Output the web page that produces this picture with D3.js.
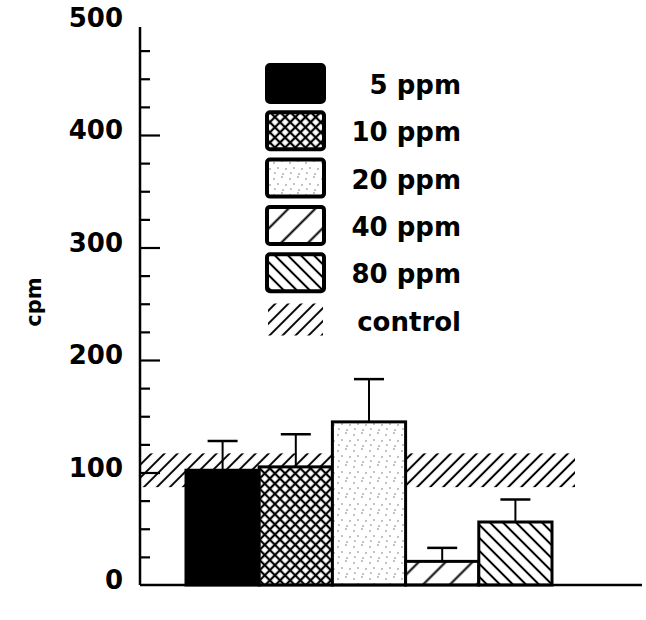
<!DOCTYPE html>
<html>
<head>
<meta charset="utf-8">
<script src="https://cdn.jsdelivr.net/npm/d3@7"></script>
<style>
  body { margin: 0; background: #fff; }
  text { font-family: "DejaVu Sans", sans-serif; font-weight: bold; fill: #000; }
</style>
</head>
<body>
<svg width="646" height="620"></svg>
<script>
// data
var categories = ["5 ppm", "10 ppm", "20 ppm", "40 ppm", "80 ppm"];
var means = [102, 105, 145, 21, 56];
var errors = [26, 29, 38, 12, 20];
var controlRange = [87, 117];
var yTicks = [0, 100, 200, 300, 400, 500];
var yMinor = d3.range(25, 500, 25);
var patterns = ["solid", "cross", "dots", "wide", "back"];

var svg = d3.select("svg");

var y = d3.scaleLinear()
    .domain([0, 500])
    .range([585, 22.5]);

var x = d3.scaleBand()
    .domain(categories)
    .range([186, 552])
    .padding(0);

// patterns
var defs = svg.append("defs");

function hatch(id, w, angle, sw) {
    var p = defs.append("pattern")
        .attr("id", id)
        .attr("patternUnits", "userSpaceOnUse")
        .attr("width", w).attr("height", w)
        .attr("patternTransform", "rotate(" + angle + ")");
    p.append("rect").attr("width", w).attr("height", w).attr("fill", "#fff");
    p.append("line")
        .attr("x1", w / 2).attr("y1", 0)
        .attr("x2", w / 2).attr("y2", w)
        .attr("stroke", "#000").attr("stroke-width", sw);
    return p;
}

hatch("wide", 19, 45, 2);
hatch("back", 9.2, -45, 2);

// control band hatch, no white background
var cp = defs.append("pattern")
    .attr("id", "ctrl")
    .attr("patternUnits", "userSpaceOnUse")
    .attr("width", 9.2).attr("height", 9.2)
    .attr("patternTransform", "rotate(45)");
cp.append("line")
    .attr("x1", 4.6).attr("y1", 0).attr("x2", 4.6).attr("y2", 9.2)
    .attr("stroke", "#000").attr("stroke-width", 2);

var cr = hatch("cross", 7.2, 45, 2.2);
cr.append("line")
    .attr("x1", 0).attr("y1", 3.6).attr("x2", 7.2).attr("y2", 3.6)
    .attr("stroke", "#000").attr("stroke-width", 2.2);

var dp = defs.append("pattern")
    .attr("id", "dots")
    .attr("patternUnits", "userSpaceOnUse")
    .attr("width", 16).attr("height", 16);
dp.append("rect").attr("width", 16).attr("height", 16).attr("fill", "#fff");
[[2, 3], [10, 1], [6, 8], [14, 9], [3, 13], [11, 14]].forEach(function(d) {
    dp.append("circle").attr("cx", d[0]).attr("cy", d[1]).attr("r", 0.8).attr("fill", "#777");
});

function fillFor(i) {
    return patterns[i] === "solid" ? "#000" : "url(#" + patterns[i] + ")";
}

// control band
svg.append("rect")
    .attr("x", 141)
    .attr("y", y(controlRange[1]))
    .attr("width", 575 - 141)
    .attr("height", y(controlRange[0]) - y(controlRange[1]))
    .attr("fill", "url(#ctrl)");

// y axis
svg.append("line")
    .attr("x1", 140).attr("x2", 140)
    .attr("y1", y(0)).attr("y2", y(496))
    .attr("stroke", "#000").attr("stroke-width", 2.5);

svg.append("g")
    .attr("transform", "translate(140,0)")
    .call(d3.axisRight(y).tickValues(yMinor.filter(function(d) { return d % 100 !== 0; }))
        .tickSize(10).tickSizeOuter(0).tickFormat(""))
    .call(function(g) { g.select(".domain").remove(); })
    .selectAll("line").attr("stroke-width", 2.2);

svg.append("g")
    .attr("transform", "translate(140,0)")
    .call(d3.axisRight(y).tickValues([100, 200, 300, 400])
        .tickSize(20).tickSizeOuter(0).tickFormat(""))
    .call(function(g) { g.select(".domain").remove(); })
    .selectAll("line").attr("stroke-width", 2.2);

var yl = svg.append("g")
    .attr("transform", "translate(140,0)")
    .call(d3.axisLeft(y).tickValues(yTicks).tickSize(0).tickPadding(17));
yl.select(".domain").remove();
yl.selectAll("text")
    .attr("font-size", 26)
    .attr("font-family", "DejaVu Sans")
    .attr("font-weight", "bold")
    .attr("dy", "0.15em");

svg.append("text")
    .attr("transform", "translate(41,302) rotate(-90)")
    .attr("text-anchor", "middle")
    .attr("font-family", "Liberation Sans")
    .attr("font-size", 21)
    .text("cpm");

// error bars
var eb = svg.append("g");
categories.forEach(function(c, i) {
    var cx = x(c) + x.bandwidth() / 2;
    eb.append("line")
        .attr("x1", cx).attr("x2", cx)
        .attr("y1", y(means[i])).attr("y2", y(means[i] + errors[i]))
        .attr("stroke", "#000").attr("stroke-width", 2);
    eb.append("line")
        .attr("x1", cx - 15).attr("x2", cx + 15)
        .attr("y1", y(means[i] + errors[i])).attr("y2", y(means[i] + errors[i]))
        .attr("stroke", "#000").attr("stroke-width", 2.5);
});

// bars
svg.append("g")
    .selectAll("rect")
    .data(categories)
    .enter()
    .append("rect")
        .attr("x", function(d) { return x(d); })
        .attr("y", function(d, i) { return y(means[i]); })
        .attr("width", x.bandwidth())
        .attr("height", function(d, i) { return y(0) - y(means[i]); })
        .attr("fill", function(d, i) { return fillFor(i); })
        .attr("stroke", "#000")
        .attr("stroke-width", 3);

// baseline
svg.append("line")
    .attr("x1", 140).attr("x2", 642)
    .attr("y1", y(0)).attr("y2", y(0))
    .attr("stroke", "#000").attr("stroke-width", 2.5);

// legend
var legend = svg.append("g");
var legendItems = categories.concat(["control"]);
legendItems.forEach(function(d, i) {
    var top = 65 + i * 47.3;
    if (i < categories.length) {
        legend.append("rect")
            .attr("x", 267).attr("y", top)
            .attr("width", 57).attr("height", 37)
            .attr("rx", 3)
            .attr("fill", fillFor(i))
            .attr("stroke", "#000")
            .attr("stroke-width", 4);
    } else {
        legend.append("rect")
            .attr("x", 268).attr("y", top + 2)
            .attr("width", 55).attr("height", 32)
            .attr("fill", "url(#ctrl)");
    }
    legend.append("text")
        .attr("x", 461)
        .attr("y", top + 19 + 10)
        .attr("text-anchor", "end")
        .attr("font-size", 26)
        .text(d);
});
</script>
</body>
</html>
